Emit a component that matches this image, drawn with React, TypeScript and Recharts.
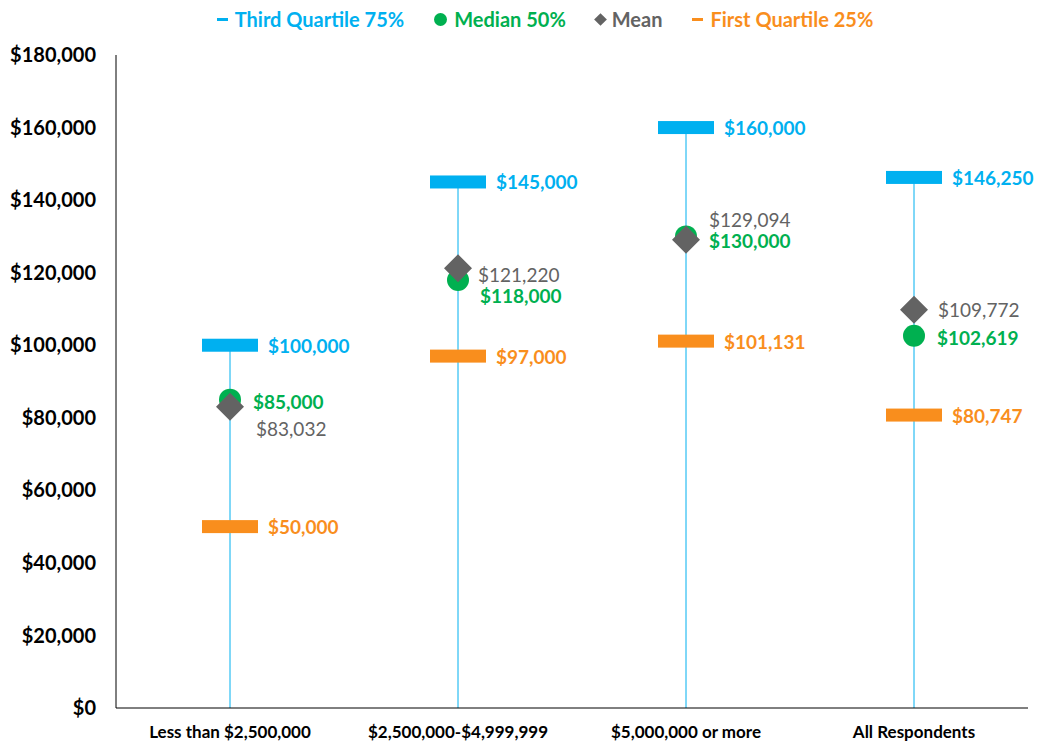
import React from 'react';
import { ComposedChart, Bar, Line, XAxis, YAxis, LabelList } from 'recharts';

const categories = ['Less than $2,500,000', '$2,500,000-$4,999,999', '$5,000,000 or more', 'All Respondents'];
const thirdQuartile = [100000, 145000, 160000, 146250];
const median = [85000, 118000, 130000, 102619];
const mean = [83032, 121220, 129094, 109772];
const firstQuartile = [50000, 97000, 101131, 80747];
const yTicks = [0, 20000, 40000, 60000, 80000, 100000, 120000, 140000, 160000, 180000];

const BLUE = '#00B0F0';
const GREEN = '#00B050';
const GRAY = '#636363';
const ORANGE = '#F98E1D';
const FONT = 'Lato, "Open Sans", sans-serif';

const data = categories.map((name, i) => ({
  name,
  q3: thirdQuartile[i],
  median: median[i],
  mean: mean[i],
  q1: firstQuartile[i],
}));

// label offsets from the marker centre, per category
const dashLabelOffset = [[38, 0], [38, 0], [38, 0], [38, 0]];
const medianLabelOffset = [[23, 2], [22, 16], [23, 4], [23, 2]];
const meanLabelOffset = [[26, 22], [20, 6], [23, -20], [24, 0]];

const money = (v: number) => '$' + v.toLocaleString('en-US');

const dash = (color: string) => (props: any) => {
  const { cx, cy, index } = props;
  if (cx == null || cy == null) return <g key={index} />;
  return <rect key={index} x={cx - 28} y={cy - 6.5} width={56} height={13} fill={color} />;
};

const circle = (props: any) => {
  const { cx, cy, index } = props;
  if (cx == null || cy == null) return <g key={index} />;
  return <circle key={index} cx={cx} cy={cy} r={11} fill={GREEN} />;
};

const diamond = (props: any) => {
  const { cx, cy, index } = props;
  if (cx == null || cy == null) return <g key={index} />;
  const r = 14;
  return (
    <path
      key={index}
      d={`M${cx},${cy - r}L${cx + r},${cy}L${cx},${cy + r}L${cx - r},${cy}Z`}
      fill={GRAY}
    />
  );
};

const labelContent = (color: string, offsets: number[][], weight: string) => (props: any) => {
  const { x, y, value, index } = props;
  const [dx, dy] = offsets[index];
  return (
    <text
      x={x + dx}
      y={y + dy}
      dominantBaseline="central"
      fill={color}
      fontSize={19}
      fontWeight={weight}
      fontFamily={FONT}
    >
      {money(value)}
    </text>
  );
};

const stem = (props: any) => {
  const { x, y, width, height } = props;
  const cx = x + width / 2;
  return <line x1={cx} x2={cx} y1={y} y2={y + height} stroke={BLUE} strokeWidth={1} />;
};

const legendItems = [
  { label: 'Third Quartile 75%', color: BLUE, mark: 'dash' },
  { label: 'Median 50%', color: GREEN, mark: 'circle' },
  { label: 'Mean', color: GRAY, mark: 'diamond' },
  { label: 'First Quartile 25%', color: ORANGE, mark: 'dash' },
];

const LegendMark = ({ mark, color }: { mark: string; color: string }) => {
  if (mark === 'dash') return <span style={{ display: 'inline-block', width: 11, height: 3, background: color }} />;
  if (mark === 'circle') return <span style={{ display: 'inline-block', width: 13, height: 13, borderRadius: 7, background: color }} />;
  return (
    <span style={{ display: 'inline-block', width: 9, height: 9, background: color, transform: 'rotate(45deg)' }} />
  );
};

export default function App() {
  return (
    <div style={{ position: 'absolute', left: 0, top: 0, width: 1039, height: 744, background: '#fff' }}>
      <div
        style={{
          position: 'absolute',
          top: 7,
          left: 0,
          width: 1090,
          display: 'flex',
          justifyContent: 'center',
          alignItems: 'center',
          fontFamily: FONT,
          fontWeight: 700,
          fontSize: 20,
        }}
      >
        {legendItems.map((it) => (
          <span key={it.label} style={{ display: 'flex', alignItems: 'center', margin: '0 15px', color: it.color }}>
            <LegendMark mark={it.mark} color={it.color} />
            <span style={{ marginLeft: 7 }}>{it.label}</span>
          </span>
        ))}
      </div>
      <ComposedChart width={1039} height={744} data={data} margin={{ top: 55, right: 11, bottom: 0, left: 0 }}>
        <XAxis
          dataKey="name"
          axisLine={{ stroke: '#000', strokeWidth: 1 }}
          tickLine={false}
          height={36}
          tickMargin={12}
          tick={{ fontSize: 17, fontWeight: 700, fill: '#000', fontFamily: FONT }}
        />
        <YAxis
          domain={[0, 180000]}
          ticks={yTicks}
          tickFormatter={money}
          axisLine={{ stroke: '#000', strokeWidth: 1 }}
          tickLine={false}
          width={116}
          tickMargin={14}
          tick={{ fontSize: 20, fontWeight: 700, fill: '#000', fontFamily: FONT }}
        />
        <Bar dataKey="q3" barSize={2} shape={stem} isAnimationActive={false} />
        <Line dataKey="q1" stroke="none" dot={dash(ORANGE)} activeDot={false} isAnimationActive={false}>
          <LabelList dataKey="q1" content={labelContent(ORANGE, dashLabelOffset, '700')} />
        </Line>
        <Line dataKey="q3" stroke="none" dot={dash(BLUE)} activeDot={false} isAnimationActive={false}>
          <LabelList dataKey="q3" content={labelContent(BLUE, dashLabelOffset, '700')} />
        </Line>
        <Line dataKey="median" stroke="none" dot={circle} activeDot={false} isAnimationActive={false}>
          <LabelList dataKey="median" content={labelContent(GREEN, medianLabelOffset, '700')} />
        </Line>
        <Line dataKey="mean" stroke="none" dot={diamond} activeDot={false} isAnimationActive={false}>
          <LabelList dataKey="mean" content={labelContent(GRAY, meanLabelOffset, '400')} />
        </Line>
      </ComposedChart>
    </div>
  );
}
